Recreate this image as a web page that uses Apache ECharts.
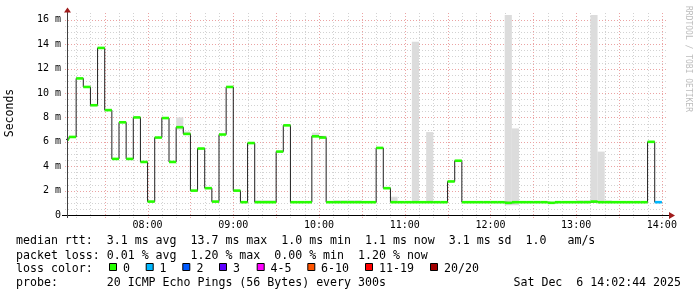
<!DOCTYPE html>
<html><head><meta charset="utf-8">
<script src="https://cdn.jsdelivr.net/npm/echarts@6/dist/echarts.min.js"></script>
<style>html,body{margin:0;padding:0;background:#fff}#c{width:697px;height:297px}</style>
</head><body><div id="c"></div>
<script>
// ---- data ----
const slotTimes = [
 "07:00","07:05","07:10","07:15","07:20","07:25","07:30","07:35","07:40","07:45","07:50","07:55",
 "08:00","08:05","08:10","08:15","08:20","08:25","08:30","08:35","08:40","08:45","08:50","08:55",
 "09:00","09:05","09:10","09:15","09:20","09:25","09:30","09:35","09:40","09:45","09:50","09:55",
 "10:00","10:05","10:10","10:15","10:20","10:25","10:30","10:35","10:40","10:45","10:50","10:55",
 "11:00","11:05","11:10","11:15","11:20","11:25","11:30","11:35","11:40","11:45","11:50","11:55",
 "12:00","12:05","12:10","12:15","12:20","12:25","12:30","12:35","12:40","12:45","12:50","12:55",
 "13:00","13:05","13:10","13:15","13:20","13:25","13:30","13:35","13:40","13:45","13:50","13:55"];
const medianMs = [
 6.2,6.4,11.2,10.5,9.0,13.7,8.6,4.6,7.6,4.6,8.0,4.35,
 1.1,6.35,7.95,4.35,7.2,6.65,2.0,5.45,2.2,1.1,6.6,10.5,
 2.0,1.05,5.9,1.05,1.05,1.05,5.2,7.35,1.05,1.05,1.05,6.45,
 6.35,1.05,1.05,1.05,1.05,1.05,1.05,1.05,5.5,2.2,1.05,1.05,
 1.05,1.05,1.05,1.05,1.05,1.05,2.75,4.45,1.05,1.05,1.05,1.05,
 1.05,1.05,1.0,1.05,1.05,1.05,1.05,1.05,1.0,1.05,1.05,1.05,
 1.05,1.05,1.1,1.05,1.05,1.05,1.05,1.05,1.05,1.05,6.0,1.05];
const lossPings = [
 0,0,0,0,0,0,0,0,0,0,0,0, 0,0,0,0,0,0,0,0,0,0,0,0, 0,0,0,0,0,0,0,0,0,0,0,0,
 0,0,0,0,0,0,0,0,0,0,0,0, 0,0,0,0,0,0,0,0,0,0,0,0, 0,0,0,0,0,0,0,0,0,0,0,0,
 0,0,0,0,0,0,0,0,0,0,0,1];
const smokeTimes = ["08:20","08:25","09:15","09:20","09:25","09:40","09:45","09:55","10:00","10:10","10:15","10:20","10:25","10:50","11:05","11:15","12:10","12:15","13:00","13:05","13:10","13:15","13:20"];
const smokeLow   = [7.0,6.6,1.0,1.0,1.0,1.0,1.0,6.45,6.3,1.0,1.0,1.0,1.0,1.0,1.0,1.0,0.8,0.8,1.0,1.0,1.0,1.0,1.0];
const smokeHigh  = [8.0,6.85,1.2,1.2,1.2,1.15,1.15,6.75,6.5,1.2,1.2,1.2,1.2,1.5,14.2,6.8,16.4,7.1,1.2,1.2,16.4,5.2,1.2];
const xLabelTimes = ["08:00","09:00","10:00","11:00","12:00","13:00","14:00"];
const yLabelValues = [0,2,4,6,8,10,12,14,16];
const lossLegendLabels = ["0","1","2","3","4-5","6-10","11-19","20/20"];
const lossLegendColors = ["#26ff00","#00b8ff","#0059ff","#5e00ff","#ff00ff","#ff5500","#ff0000","#a10000"];
const legendLines = [
 "median rtt:  3.1 ms avg  13.7 ms max  1.0 ms min  1.1 ms now  3.1 ms sd  1.0   am/s",
 "packet loss: 0.01 % avg  1.20 % max  0.00 % min  1.20 % now",
 "loss color:",
 "probe:       20 ICMP Echo Pings (56 Bytes) every 300s"];
const dateText = "Sat Dec  6 14:02:44 2025";

// ---- helpers ----
const toMin = s => { const [h,m] = s.split(":").map(Number); return h*60+m; };
const STEP = 5;
const X_MIN = toMin("07:03") + 0.6, X_MAX = X_MIN + 420;
const Y_MIN = 0, Y_MAX = 16.4;
function lossColor(n){ if(n<=0) return lossLegendColors[0]; if(n===1) return lossLegendColors[1]; if(n===2) return lossLegendColors[2]; if(n===3) return lossLegendColors[3]; if(n<=5) return lossLegendColors[4]; if(n<=10) return lossLegendColors[5]; if(n<=19) return lossLegendColors[6]; return lossLegendColors[7]; }

const xMinorGrid = [], xMajorGrid = [], yMinorGrid = [], yMajorGrid = [];
for (let t = 430; t <= 840; t += 10) (t % 30 === 0 ? xMajorGrid : xMinorGrid).push(t);
for (let v = 0.5; v <= 16; v += 0.5) (v % 2 === 0 ? yMajorGrid : yMinorGrid).push(v);

const stepData = slotTimes.map((s,i)=>[toMin(s), medianMs[i]]);
stepData.push([toMin(slotTimes[slotTimes.length-1])+STEP, medianMs[medianMs.length-1]]);
const bandData = slotTimes.map((s,i)=>[toMin(s), medianMs[i], lossPings[i]]);
const smokeData = smokeTimes.map((s,i)=>[toMin(s), smokeLow[i], smokeHigh[i]]);

const FONT = "'DejaVu Sans Mono', monospace";

function vGrid(color){
  return (params, api) => {
    const v = api.value(0);
    const p0 = api.coord([v, Y_MIN]), p1 = api.coord([v, Y_MAX]);
    return {type:'line', shape:{x1:Math.round(p0[0])+0.5, y1:p0[1]+3, x2:Math.round(p0[0])+0.5, y2:p1[1]-2},
      style:{stroke:color, lineWidth:1, lineDash:[1,2]}};
  };
}
function hGrid(color){
  return (params, api) => {
    const v = api.value(0);
    const p0 = api.coord([X_MIN, v]), p1 = api.coord([X_MAX, v]);
    return {type:'line', shape:{x1:p0[0]-2, y1:Math.round(p0[1])+0.5, x2:p1[0]+1, y2:Math.round(p0[1])+0.5},
      style:{stroke:color, lineWidth:1, lineDash:[1,2]}};
  };
}
const minorColor = '#d2d2d2', majorColor = '#eba3a3';

const chart = echarts.init(document.getElementById('c'), null, {renderer:'canvas'});
const graphics = [];
// y axis label
graphics.push({type:'text', x:10, y:113, rotation:Math.PI/2, style:{text:'Seconds', font:`11.5px ${FONT}`, fill:'#000', align:'center', verticalAlign:'middle'}});
// watermark
graphics.push({type:'text', x:688, y:59, rotation:-Math.PI/2, style:{text:'RRDTOOL / TOBI OETIKER', font:`8px ${FONT}`, fill:'#bdbdbd', align:'center', verticalAlign:'middle'}});
// axis extensions + arrows
graphics.push({type:'line', shape:{x1:62, y1:215.5, x2:669, y2:215.5}, style:{stroke:'#000', lineWidth:1}, z:50});
graphics.push({type:'line', shape:{x1:67.5, y1:218, x2:67.5, y2:12}, style:{stroke:'#404040', lineWidth:1}, z:50});
graphics.push({type:'polygon', shape:{points:[[64,12.5],[71,12.5],[67.5,7.5]]}, style:{fill:'#a01c1c'}, z:51});
graphics.push({type:'polygon', shape:{points:[[669,212],[669,219],[675,215.5]]}, style:{fill:'#a01c1c'}, z:51});
// legend lines
const rowY = [241, 255.5, 269, 283];
legendLines.forEach((t,i)=>graphics.push({type:'text', x:16, y:rowY[i], style:{text:t, font:`11.6px ${FONT}`, fill:'#000', verticalAlign:'middle'}}));
graphics.push({type:'text', x:681, y:rowY[3], style:{text:dateText, font:`11.6px ${FONT}`, fill:'#000', align:'right', verticalAlign:'middle'}});
const boxX = [109, 145.7, 182.3, 219, 256.7, 307.3, 365, 430];
const labX = [123, 159.5, 196.5, 233, 270.5, 321, 379, 444];
lossLegendLabels.forEach((l,i)=>{
  graphics.push({type:'rect', shape:{x:boxX[i]+0.5, y:263.5, width:7, height:7}, style:{fill:lossLegendColors[i], stroke:'#000', lineWidth:1}});
  graphics.push({type:'text', x:labX[i], y:rowY[2], style:{text:l, font:`11.6px ${FONT}`, fill:'#000', verticalAlign:'middle'}});
});

chart.setOption({
  animation:false,
  backgroundColor:'#fff',
  grid:{left:67, right:30, top:15, height:200, containLabel:false},
  xAxis:{type:'value', min:X_MIN, max:X_MAX,
    axisLine:{show:false}, axisTick:{show:false}, splitLine:{show:false},
    axisLabel:{customValues:xLabelTimes.map(toMin), formatter:v=>{const h=Math.floor(v/60), m=Math.round(v%60); return String(h).padStart(2,'0')+':'+String(m).padStart(2,'0');},
      fontFamily:FONT, fontSize:10, color:'#000', margin:5}},
  yAxis:{type:'value', min:Y_MIN, max:Y_MAX,
    axisLine:{show:false}, axisTick:{show:false}, splitLine:{show:false},
    axisLabel:{customValues:yLabelValues, formatter:v=> v===0 ? '0' : v+' m', fontFamily:FONT, fontSize:10, color:'#000', margin:6}},
  graphic:graphics,
  series:[
    {type:'custom', z:1, clip:false, silent:true, data:xMinorGrid.map(v=>[v]), renderItem:vGrid(minorColor), encode:{x:0}},
    {type:'custom', z:1, clip:false, silent:true, data:yMinorGrid.map(v=>[v]), renderItem:hGrid(minorColor), encode:{y:0}},
    {type:'custom', z:2, clip:false, silent:true, data:xMajorGrid.map(v=>[v]), renderItem:vGrid(majorColor), encode:{x:0}},
    {type:'custom', z:2, clip:false, silent:true, data:yMajorGrid.map(v=>[v]), renderItem:hGrid(majorColor), encode:{y:0}},
    {type:'custom', z:3, clip:true, silent:true, data:smokeData,
      renderItem:(params, api)=>{
        const t=api.value(0), lo=api.value(1), hi=api.value(2);
        const a=api.coord([t, hi]), b=api.coord([t+STEP, lo]);
        return {type:'rect', shape:{x:a[0], y:a[1], width:b[0]-a[0], height:b[1]-a[1]}, style:{fill:'#dcdcdc'}};
      }, encode:{x:0, y:[1,2]}},
    {type:'line', z:4, step:'end', symbol:'none', data:stepData, lineStyle:{color:'#202020', width:1}, clip:true, silent:true},
    {type:'custom', z:5, clip:true, silent:true, data:bandData,
      renderItem:(params, api)=>{
        const t=api.value(0), v=api.value(1), n=api.value(2);
        const a=api.coord([t, v]), b=api.coord([t+STEP, v]);
        return {type:'rect', shape:{x:a[0], y:a[1]-1.3, width:b[0]-a[0], height:2.6}, style:{fill:lossColor(n)}};
      }, encode:{x:0, y:1}}
  ]
});
</script></body></html>
